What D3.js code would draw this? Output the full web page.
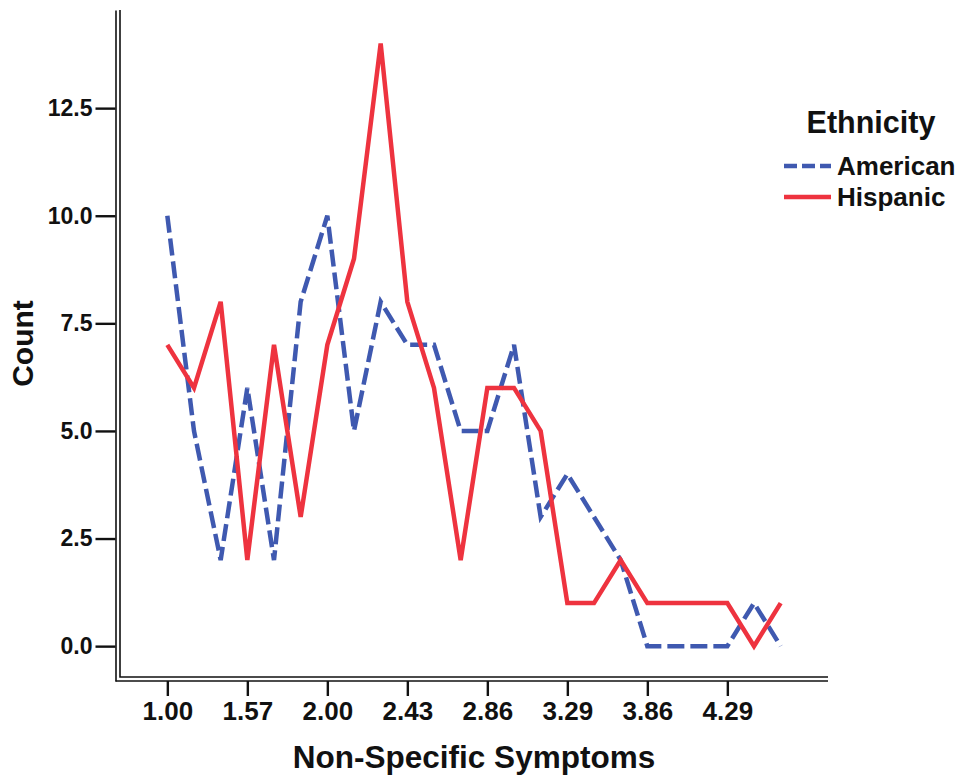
<!DOCTYPE html>
<html>
<head>
<meta charset="utf-8">
<script src="https://cdn.jsdelivr.net/npm/d3@7/dist/d3.min.js"></script>
<style>
  body { margin: 0; background: #fff; }
  svg { display: block; font-family: "Liberation Sans", Arial, sans-serif; font-weight: bold; }
</style>
</head>
<body>
<div id="chart"></div>
<script>
// category values of Non-Specific Symptoms (every third one is labelled)
const categories = ["1.00", "1.14", "1.43", "1.57", "1.71", "1.86", "2.00", "2.14",
  "2.29", "2.43", "2.57", "2.71", "2.86", "3.00", "3.14", "3.29", "3.43", "3.71",
  "3.86", "4.00", "4.14", "4.29", "4.43", "4.57"];
const tickLabels = ["1.00", "1.57", "2.00", "2.43", "2.86", "3.29", "3.86", "4.29"];
const american = [10, 5, 2, 6, 2, 8, 10, 5, 8, 7, 7, 5, 5, 7, 3, 4, 3, 2, 0, 0, 0, 0, 1, 0];
const hispanic = [7, 6, 8, 2, 7, 3, 7, 9, 14, 8, 6, 2, 6, 6, 5, 1, 1, 2, 1, 1, 1, 1, 0, 1];
const yTicks = [0, 2.5, 5, 7.5, 10, 12.5];

const series = [
  { name: "American", values: american, color: "#3f59b0", dash: "17,6", legendDash: "13,5" },
  { name: "Hispanic", values: hispanic, color: "#ee333f", dash: null, legendDash: null },
];

const width = 967, height = 783;
const plotLeft = 120, plotRight = 828, plotTop = 10, plotBottom = 677;

const svg = d3.select("#chart").append("svg")
  .attr("width", width).attr("height", height);

const x = d3.scalePoint().domain(categories).range([plotLeft, plotRight]).padding(1.775);
const y = d3.scaleLinear().domain([-0.81, 14.78]).range([681, plotTop]);

// inner frame
svg.append("path")
  .attr("d", `M${plotLeft},${plotTop}V${plotBottom}H${plotRight}`)
  .attr("fill", "none").attr("stroke", "#111").attr("stroke-width", 1.6);

// y axis
const yAxis = svg.append("g")
  .attr("transform", "translate(115.5,0)")
  .call(d3.axisLeft(y).tickValues(yTicks).tickFormat(d3.format(".1f"))
    .tickSize(20).tickSizeOuter(0).tickPadding(3))
  .attr("font-family", null).attr("font-size", 23);
yAxis.select(".domain").attr("stroke", "#111").attr("stroke-width", 1.6);
yAxis.selectAll(".tick line").attr("stroke", "#111").attr("stroke-width", 2.4);
yAxis.selectAll(".tick text").attr("fill", "#111");

// x axis
const xAxis = svg.append("g")
  .attr("transform", "translate(0,681)")
  .call(d3.axisBottom(x).tickValues(tickLabels).tickSize(15).tickSizeOuter(0).tickPadding(6))
  .attr("font-family", null).attr("font-size", 26);
xAxis.select(".domain").remove();
xAxis.append("line").attr("x1", 115.5).attr("x2", plotRight)
  .attr("stroke", "#111").attr("stroke-width", 1.6);
xAxis.selectAll(".tick line").attr("stroke", "#111").attr("stroke-width", 2.4);
xAxis.selectAll(".tick text").attr("fill", "#111");

// lines
const line = d3.line()
  .x((d, i) => x(categories[i]))
  .y((d) => y(d));

svg.append("g").selectAll("path")
  .data(series)
  .join("path")
  .attr("d", (d) => line(d.values))
  .attr("fill", "none")
  .attr("stroke", (d) => d.color)
  .attr("stroke-width", 4.5)
  .attr("stroke-linejoin", "miter")
  .attr("stroke-dasharray", (d) => d.dash);

// axis titles
svg.append("text")
  .attr("x", (plotLeft + plotRight) / 2).attr("y", 768)
  .attr("text-anchor", "middle").attr("font-size", 31.5).attr("fill", "#111")
  .text("Non-Specific Symptoms");

svg.append("text")
  .attr("transform", `translate(33,${(plotTop + plotBottom) / 2}) rotate(-90)`)
  .attr("text-anchor", "middle").attr("font-size", 30).attr("fill", "#111")
  .text("Count");

// legend
const legend = svg.append("g");
legend.append("text")
  .attr("x", 871).attr("y", 133)
  .attr("text-anchor", "middle").attr("font-size", 30.5).attr("fill", "#111")
  .text("Ethnicity");

const item = legend.selectAll("g.item")
  .data(series)
  .join("g")
  .attr("class", "item")
  .attr("transform", (d, i) => `translate(784,${166 + i * 31})`);
item.append("line")
  .attr("x1", 0).attr("x2", 47)
  .attr("stroke", (d) => d.color).attr("stroke-width", 4.5)
  .attr("stroke-dasharray", (d) => d.legendDash);
item.append("text")
  .attr("x", 53).attr("y", 8.5)
  .attr("font-size", 26).attr("fill", "#111")
  .text((d) => d.name);
</script>
</body>
</html>
